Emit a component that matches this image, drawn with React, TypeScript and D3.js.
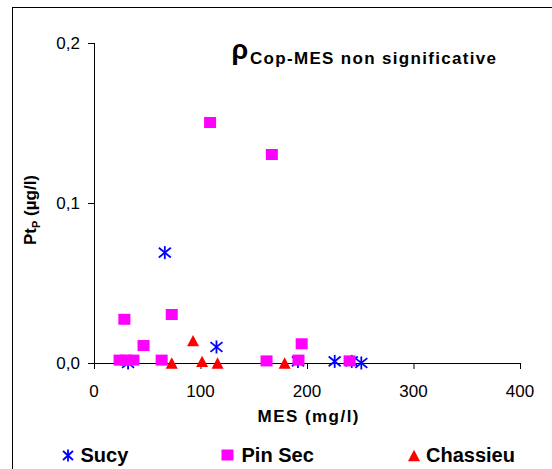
import React from "react";
import * as d3 from "d3";

const sucyX = [32, 66.5, 115, 191.5, 226, 242, 251];
const sucyY = [0, 0.069, 0.01, 0.001, 0.001, 0.001, 0];

const pinSecX = [24, 30, 37, 28.5, 46.5, 63.5, 73, 109, 162, 167, 192, 195, 240];
const pinSecY = [0.0015, 0.0015, 0.0015, 0.027, 0.0106, 0.0015, 0.03, 0.15, 0.001, 0.13, 0.0015, 0.0117, 0.001];

const chassieuX = [73, 93, 101.5, 116, 179];
const chassieuY = [0, 0.014, 0.001, 0, 0];

const xTicks = [0, 100, 200, 300, 400];
const yTicks = [0, 0.1, 0.2];

const seriesNames = ["Sucy", "Pin Sec", "Chassieu"];

const FONT = "'Liberation Sans', Arial, sans-serif";

function Asterisk({ cx, cy, w = 12, h = 13, color = "#0000ff" }: any) {
  const hw = w / 2, hh = h / 2;
  return (
    <g stroke={color} strokeWidth={1.8} fill="none">
      <line x1={cx} y1={cy - hh} x2={cx} y2={cy + hh} />
      <line x1={cx - hw} y1={cy - hh * 0.75} x2={cx + hw} y2={cy + hh * 0.75} />
      <line x1={cx - hw} y1={cy + hh * 0.75} x2={cx + hw} y2={cy - hh * 0.75} />
    </g>
  );
}

function Square({ cx, cy, s = 12 }: any) {
  return <rect x={cx - s / 2} y={cy - s / 2} width={s} height={s - 1} fill="#ff00ff" />;
}

function Triangle({ cx, cy, s = 12 }: any) {
  const h = s * 0.95;
  return (
    <path
      d={`M${cx},${cy - h / 2} L${cx + s / 2},${cy + h / 2} L${cx - s / 2},${cy + h / 2} Z`}
      fill="#ff0000"
    />
  );
}

export default function App() {
  const x = d3.scaleLinear().domain([0, 400]).range([94, 520]);
  const y = d3.scaleLinear().domain([0, 0.2]).range([363, 43]);
  const fmtY = (v: number) => d3.format(".1f")(v).replace(".", ",");

  return (
    <div style={{ position: "absolute", left: 0, top: 0 }}>
      <svg width={552} height={469} style={{ display: "block", background: "#fff" }}>
        <rect x={12.5} y={7.5} width={600} height={500} fill="#fff" stroke="#000" strokeWidth={1} />

        {/* axes */}
        <line x1={x(0)} y1={y(0) + 0.5} x2={x(400)} y2={y(0) + 0.5} stroke="#000" />
        <line x1={x(0) + 0.5} y1={y(0.2)} x2={x(0) + 0.5} y2={y(0)} stroke="#000" />
        {xTicks.map((t) => (
          <g key={"xt" + t}>
            <line x1={x(t) + 0.5} x2={x(t) + 0.5} y1={y(0)} y2={y(0) + 6} stroke="#000" />
            <text x={x(t)} y={397} textAnchor="middle" fontFamily={FONT} fontSize={17}>
              {t}
            </text>
          </g>
        ))}
        {yTicks.map((t) => (
          <g key={"yt" + t}>
            <line x1={x(0) - 6} x2={x(0)} y1={y(t) + 0.5} y2={y(t) + 0.5} stroke="#000" />
            <text x={80} y={y(t) + 6} textAnchor="end" fontFamily={FONT} fontSize={17}>
              {fmtY(t)}
            </text>
          </g>
        ))}

        {/* axis titles */}
        <text
          x={(x(0) + x(400)) / 2 + 1}
          y={421.5}
          textAnchor="middle"
          fontFamily={FONT}
          fontSize={17}
          fontWeight="bold"
          textLength={101}
          lengthAdjust="spacing"
        >
          MES (mg/l)
        </text>
        <text
          transform="translate(36,210) rotate(-90)"
          textAnchor="middle"
          fontFamily={FONT}
          fontSize={17}
          fontWeight="bold"
        >
          Pt
          <tspan fontSize={11} dy={4}>P</tspan>
          <tspan dy={-4}> (µg/l)</tspan>
        </text>

        {/* title */}
        <text x={231.5} y={59} fontFamily={FONT} fontSize={27} fontWeight="bold">
          ρ
        </text>
        <text
          x={250}
          y={64.3}
          fontFamily={FONT}
          fontSize={17}
          fontWeight="bold"
          textLength={246}
          lengthAdjust="spacing"
        >
          Cop-MES non significative
        </text>

        {/* data */}
        {sucyX.map((v, i) => (
          <Asterisk key={"s" + i} cx={x(v)} cy={y(sucyY[i])} />
        ))}
        {pinSecX.map((v, i) => (
          <Square key={"p" + i} cx={x(v)} cy={y(pinSecY[i])} />
        ))}
        {chassieuX.map((v, i) => (
          <Triangle key={"c" + i} cx={x(v)} cy={y(chassieuY[i])} />
        ))}

        {/* legend */}
        <Asterisk cx={68} cy={455.5} w={10} h={12} />
        <text x={80.5} y={461.7} fontFamily={FONT} fontSize={20} fontWeight="bold">
          {seriesNames[0]}
        </text>
        <Square cx={227.5} cy={455.5} s={12} />
        <text x={241.5} y={461.7} fontFamily={FONT} fontSize={20} fontWeight="bold">
          {seriesNames[1]}
        </text>
        <Triangle cx={414} cy={455.5} s={12} />
        <text x={426} y={461.7} fontFamily={FONT} fontSize={20} fontWeight="bold">
          {seriesNames[2]}
        </text>
      </svg>
    </div>
  );
}
